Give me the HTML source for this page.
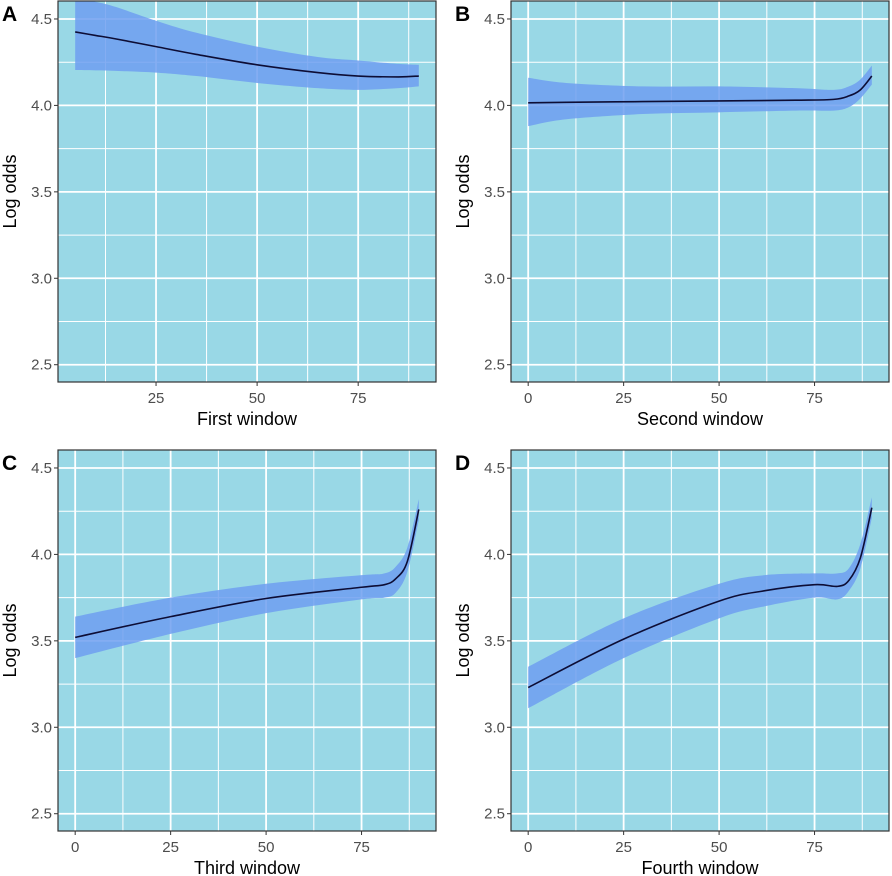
<!DOCTYPE html>
<html><head><meta charset="utf-8"><style>
html,body{margin:0;padding:0;background:#fff}
svg{display:block;font-family:"Liberation Sans",Arial,sans-serif}
</style></head><body>
<svg id="fig" width="892" height="876" viewBox="0 0 892 876"></svg>
<script>
const yTicks=[2.5,3.0,3.5,4.0,4.5];
const yTickLabels=["2.5","3.0","3.5","4.0","4.5"];
const yMinor=[2.75,3.25,3.75,4.25];
const xTicksA=[25,50,75];
const xTicksB=[0,25,50,75];
const xMinor=[12.5,37.5,62.5,87.5];
const titles=["First window","Second window","Third window","Fourth window"];
const letters=["A","B","C","D"];
// Panel A
const xA=[5,10,15,25,35,50,65,75,85,90];
const fitA=[4.425,4.405,4.385,4.34,4.295,4.235,4.19,4.17,4.165,4.17];
const loA=[4.205,4.203,4.2,4.19,4.17,4.13,4.10,4.09,4.10,4.11];
const hiA=[4.62,4.60,4.57,4.49,4.42,4.34,4.28,4.26,4.24,4.235];
// Panel B
const xB=[0,10,30,50,70,80,84,87,90];
const fitB=[4.015,4.018,4.022,4.026,4.03,4.035,4.055,4.09,4.17];
const loB=[3.88,3.92,3.95,3.96,3.97,3.97,3.99,4.04,4.12];
const hiB=[4.16,4.13,4.11,4.11,4.10,4.09,4.11,4.15,4.23];
// Panel C
const xC=[0,25,50,75,81,84,87,90];
const fitC=[3.52,3.64,3.745,3.81,3.825,3.86,3.96,4.26];
const loC=[3.40,3.54,3.66,3.74,3.75,3.78,3.90,4.20];
const hiC=[3.64,3.75,3.83,3.88,3.89,3.93,4.04,4.32];
// Panel D
const xD=[0,25,50,62,75,81,84,87,90];
const fitD=[3.23,3.51,3.73,3.79,3.825,3.815,3.85,3.98,4.27];
const loD=[3.11,3.40,3.63,3.70,3.75,3.74,3.79,3.92,4.21];
const hiD=[3.35,3.63,3.83,3.88,3.89,3.89,3.92,4.06,4.33];

const NS="http://www.w3.org/2000/svg";
const svg=document.getElementById('fig');
function mk(tag,attrs,parent){const e=document.createElementNS(NS,tag);for(const k in attrs)e.setAttribute(k,attrs[k]);(parent||svg).appendChild(e);return e;}
function smooth(pts){
  let d="M"+pts[0][0]+","+pts[0][1];
  for(let i=0;i<pts.length-1;i++){
    const p0=pts[Math.max(0,i-1)],p1=pts[i],p2=pts[i+1],p3=pts[Math.min(pts.length-1,i+2)];
    const c1=[p1[0]+(p2[0]-p0[0])/6,p1[1]+(p2[1]-p0[1])/6];
    const c2=[p2[0]-(p3[0]-p1[0])/6,p2[1]-(p3[1]-p1[1])/6];
    d+=" C"+c1[0]+","+c1[1]+" "+c2[0]+","+c2[1]+" "+p2[0]+","+p2[1];
  }
  return d;
}
const panels=[
 {L:58,T:1,xmin:0.75,xmax:94.25,xt:xTicksA,xs:xA,fit:fitA,lo:loA,hi:hiA},
 {L:511,T:1,xmin:-4.5,xmax:94.5,xt:xTicksB,xs:xB,fit:fitB,lo:loB,hi:hiB},
 {L:58,T:450,xmin:-4.5,xmax:94.5,xt:xTicksB,xs:xC,fit:fitC,lo:loC,hi:hiC},
 {L:511,T:450,xmin:-4.5,xmax:94.5,xt:xTicksB,xs:xD,fit:fitD,lo:loD,hi:hiD}
];
const W=378,H=381,YMAX=4.604,YMIN=2.40;
panels.forEach((p,i)=>{
  const g=mk('g',{});
  
  
  const X=v=>p.L+(v-p.xmin)/(p.xmax-p.xmin)*W;
  const Y=v=>p.T+(YMAX-v)/(YMAX-YMIN)*H;
  const cid='clip'+i;
  const cp=mk('clipPath',{id:cid},g);mk('rect',{x:p.L,y:p.T,width:W,height:H},cp);
  const bg=mk('rect',{x:p.L,y:p.T,width:W,height:H,fill:'#99d8e6'},g);
  
  
  yMinor.forEach(v=>mk('line',{x1:p.L,x2:p.L+W,y1:Y(v),y2:Y(v),stroke:'#fff','stroke-width':1},g));
  xMinor.forEach(v=>mk('line',{x1:X(v),x2:X(v),y1:p.T,y2:p.T+H,stroke:'#fff','stroke-width':1},g));
  yTicks.forEach(v=>mk('line',{x1:p.L,x2:p.L+W,y1:Y(v),y2:Y(v),stroke:'#fff','stroke-width':1.8},g));
  p.xt.forEach(v=>mk('line',{x1:X(v),x2:X(v),y1:p.T,y2:p.T+H,stroke:'#fff','stroke-width':1.8},g));
  const up=p.xs.map((x,k)=>[X(x),Y(p.hi[k])]);
  const dn=p.xs.map((x,k)=>[X(x),Y(p.lo[k])]).reverse();
  const band=mk('path',{d:smooth(up)+" L"+dn[0][0]+","+dn[0][1]+smooth(dn).replace(/^M[^ ]+/,"")+" Z",fill:'#6f9ff0','fill-opacity':0.85,'clip-path':'url(#'+cid+')'},g);
  
  
  const ln=mk('path',{d:smooth(p.xs.map((x,k)=>[X(x),Y(p.fit[k])])),fill:'none',stroke:'#0d0d35','stroke-width':1.6},g);
  
  
  const border=mk('rect',{x:p.L,y:p.T,width:W,height:H,fill:'none',stroke:'#333','stroke-width':1.2},g);
  
  
  yTicks.forEach((v,k)=>{
    mk('line',{x1:p.L-4,x2:p.L,y1:Y(v),y2:Y(v),stroke:'#333','stroke-width':1},g);
    const t=mk('text',{x:p.L-6,y:Y(v)+5,'text-anchor':'end','font-size':15,fill:'#4d4d4d'},g);
    t.textContent=yTickLabels[k];
    
    
  });
  p.xt.forEach(v=>{
    mk('line',{x1:X(v),x2:X(v),y1:p.T+H,y2:p.T+H+4,stroke:'#333','stroke-width':1},g);
    const t=mk('text',{x:X(v),y:p.T+H+21,'text-anchor':'middle','font-size':15,fill:'#4d4d4d'},g);
    t.textContent=String(v);
    
    
  });
  const xt=mk('text',{x:p.L+W/2,y:p.T+H+43,'text-anchor':'middle','font-size':18,fill:'#000'},g);
  xt.textContent=titles[i];
  
  
  const yx=p.L-42,yy=p.T+H/2;
  const yt=mk('text',{x:yx,y:yy,'text-anchor':'middle','font-size':18,fill:'#000',transform:'rotate(-90 '+yx+' '+yy+')'},g);
  yt.textContent='Log odds';
  
  
  const lt=mk('text',{x:p.L-56,y:p.T+20,'font-size':21,'font-weight':'bold',fill:'#000'},g);
  lt.textContent=letters[i];
  
  
});
</script>
</body></html>
